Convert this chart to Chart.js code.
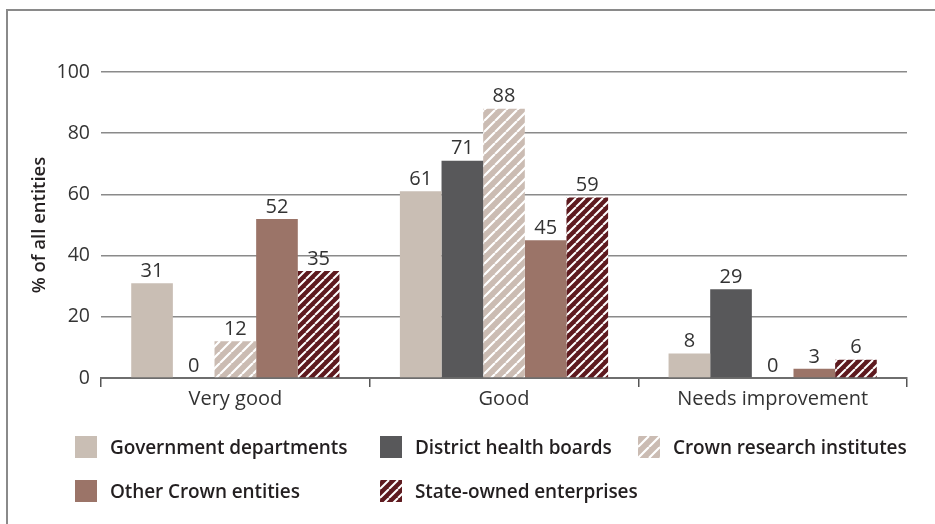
<!DOCTYPE html>
<html>
<head>
<meta charset="utf-8">
<script src="https://cdn.jsdelivr.net/npm/chart.js@4"></script>
<style>
  html, body { margin: 0; padding: 0; background: #fff; }
  #wrap { position: relative; width: 935px; height: 524px; overflow: hidden; font-family: "Open Sans", sans-serif; }
  #frame { position: absolute; left: 6px; top: 9px; right: 0; bottom: 0; border-top: 2px solid #8a8a8a; border-left: 2px solid #8a8a8a; pointer-events: none; }
  #chart { position: absolute; left: 0; top: 0; }
  #legend { position: absolute; left: 75px; top: 425px; display: grid; grid-template-columns: 305px 258px 260px; grid-auto-rows: 44px; }
  .item { display: flex; align-items: center; font-weight: 600; font-size: 19px; letter-spacing: -0.1px; color: #231f20; white-space: nowrap; }
  .item canvas { width: 22px; height: 22px; margin-right: 13px; flex: none; }
</style>
</head>
<body>
<div id="wrap">
  <canvas id="chart" width="935" height="524"></canvas>
  <div id="frame"></div>
  <div id="legend"></div>
</div>
<script>
// Rating categories and share of entities (%) per entity type
const categories = ['Very good', 'Good', 'Needs improvement'];
const seriesNames = ['Government departments', 'District health boards', 'Crown research institutes', 'Other Crown entities', 'State-owned enterprises'];
const governmentDepartments = [31, 61, 8];
const districtHealthBoards = [0, 71, 29];
const crownResearchInstitutes = [12, 88, 0];
const otherCrownEntities = [52, 45, 3];
const stateOwnedEnterprises = [35, 59, 6];
const yTicks = [0, 20, 40, 60, 80, 100];

// Diagonal white-stripe fill
function hatch(base, size, lw) {
  const c = document.createElement('canvas');
  c.width = c.height = size;
  const g = c.getContext('2d');
  g.fillStyle = base;
  g.fillRect(0, 0, size, size);
  g.strokeStyle = '#ffffff';
  g.lineWidth = lw;
  g.beginPath();
  for (let k = -1; k <= 1; k++) {
    g.moveTo(k * size, size);
    g.lineTo(k * size + size, 0);
  }
  g.stroke();
  return g.createPattern(c, 'repeat');
}

const ctx = document.getElementById('chart').getContext('2d');
const fills = [
  '#c9beb4',
  '#58585a',
  hatch('#cbbcb3', 11, 2.2),
  '#9b7468',
  hatch('#5e1a1f', 9, 2)
];
const values = [governmentDepartments, districtHealthBoards, crownResearchInstitutes, otherCrownEntities, stateOwnedEnterprises];

const valueLabels = {
  id: 'valueLabels',
  afterDatasetsDraw(chart) {
    const c = chart.ctx;
    c.save();
    c.font = '400 20px "Open Sans"';
    c.fillStyle = '#333333';
    c.textAlign = 'center';
    c.textBaseline = 'bottom';
    chart.data.datasets.forEach((ds, i) => {
      chart.getDatasetMeta(i).data.forEach((bar, j) => {
        c.fillText(String(ds.data[j]), bar.x, bar.y - 2);
      });
    });
    c.restore();
  }
};

const chart = new Chart(ctx, {
  type: 'bar',
  data: {
    labels: categories,
    datasets: seriesNames.map((name, i) => ({
      label: name,
      data: values[i],
      backgroundColor: fills[i],
      borderWidth: 0,
      categoryPercentage: 0.775,
      barPercentage: 1.0
    }))
  },
  options: {
    responsive: false,
    animation: false,
    devicePixelRatio: 1,
    layout: { padding: { left: 20, top: 72, right: 28, bottom: 106 } },
    plugins: { legend: { display: false }, tooltip: { enabled: false } },
    scales: {
      x: {
        afterFit: s => { s.height = 40; },
        grid: { offset: true, drawOnChartArea: false, drawTicks: true, tickLength: 9, color: '#555555', lineWidth: 1.5 },
        border: { display: true, color: '#6e6e6e', width: 2 },
        ticks: { color: '#333333', font: { family: 'Open Sans', size: 20 }, padding: 0 }
      },
      y: {
        min: 0,
        max: 100,
        afterFit: s => { s.width = 81; },
        afterBuildTicks: s => { s.ticks = yTicks.map(v => ({ value: v })); },
        grid: { drawTicks: false, color: '#8a8a8a', lineWidth: 1.5 },
        border: { display: false },
        ticks: { color: '#333333', font: { family: 'Open Sans', size: 19.5 }, padding: 11 },
        title: { display: true, text: '% of all entities', color: '#231f20', font: { family: 'Open Sans', size: 18.5, weight: '600' }, padding: { top: 9, bottom: 0 } }
      }
    }
  },
  plugins: [valueLabels]
});

// Legend built from the chart's datasets
const legend = document.getElementById('legend');
chart.data.datasets.forEach(ds => {
  const item = document.createElement('div');
  item.className = 'item';
  const sw = document.createElement('canvas');
  sw.width = 22; sw.height = 22;
  const sctx = sw.getContext('2d');
  sctx.fillStyle = ds.backgroundColor;
  sctx.fillRect(0, 0, 22, 22);
  const txt = document.createElement('span');
  txt.textContent = ds.label;
  item.appendChild(sw);
  item.appendChild(txt);
  legend.appendChild(item);
});
</script>
</body>
</html>
